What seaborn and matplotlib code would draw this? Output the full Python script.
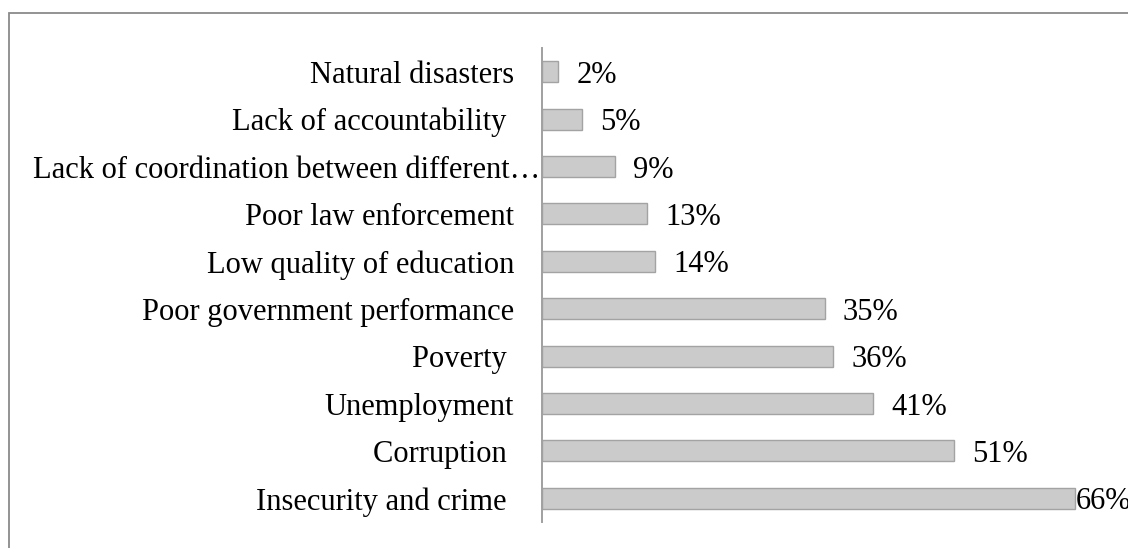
import matplotlib
matplotlib.use('Agg')
import matplotlib.pyplot as plt
import seaborn as sns
from matplotlib.patches import Rectangle

# datos
categorias = ['Natural disasters', 'Lack of accountability ', 'Lack of coordination between different\u2026',
              'Poor law enforcement', 'Low quality of education', 'Poor government performance',
              'Poverty ', 'Unemployment', 'Corruption ', 'Insecurity and crime ']
valores = [2, 5, 9, 13, 14, 35, 36, 41, 51, 66]
etiquetas = ['2%', '5%', '9%', '13%', '14%', '35%', '36%', '41%', '51%', '66%']

sns.set_style('white')
plt.rcParams['font.family'] = ['Liberation Serif', 'DejaVu Serif']

fig = plt.figure(figsize=(11.28, 5.48), dpi=100)
ax = fig.add_axes([0.4805, 0.0474, 0.5195, 0.865])

sns.barplot(x=valores, y=categorias, orient='h', color='#cbcbcb', edgecolor='#a3a3a3',
            linewidth=1.0, width=0.44, saturation=1, ax=ax)

ax.set_xlim(0, 72.5)
ax.set_ylim(9.5, -0.5)
ax.set_xlabel('')
ax.set_ylabel('')
ax.xaxis.set_visible(False)
for s in ['top', 'right', 'bottom']:
    ax.spines[s].set_visible(False)
ax.spines['left'].set_color('#a0a0a0')
ax.spines['left'].set_linewidth(1.4)
ax.tick_params(axis='y', length=0, pad=20, labelsize=22, labelcolor='black')

# la etiqueta larga va pegada al eje
ax.set_yticks(range(len(categorias)))
ax.set_yticklabels([c if i != 2 else '' for i, c in enumerate(categorias)])
ax.annotate(categorias[2], xy=(0, 2), xycoords=ax.get_yaxis_transform(), xytext=(-1, 0),
            textcoords='offset points', ha='right', va='center_baseline', fontsize=22, color='black')

# etiquetas de valor
for i, (v, t) in enumerate(zip(valores, etiquetas)):
    off = 0 if v == max(valores) else 13
    ax.annotate(t, xy=(v, i), xytext=(off, 0), textcoords='offset points',
                ha='left', va='center_baseline', fontsize=22, color='black', annotation_clip=False)

# marco del grafico
fig.add_artist(Rectangle((8.5 / 1128, -0.1), 2, 1.1 - 13.5 / 548, transform=fig.transFigure,
                         fill=False, edgecolor='#8a8a8a', linewidth=1.3))

plt.savefig('out.png', dpi=100)
